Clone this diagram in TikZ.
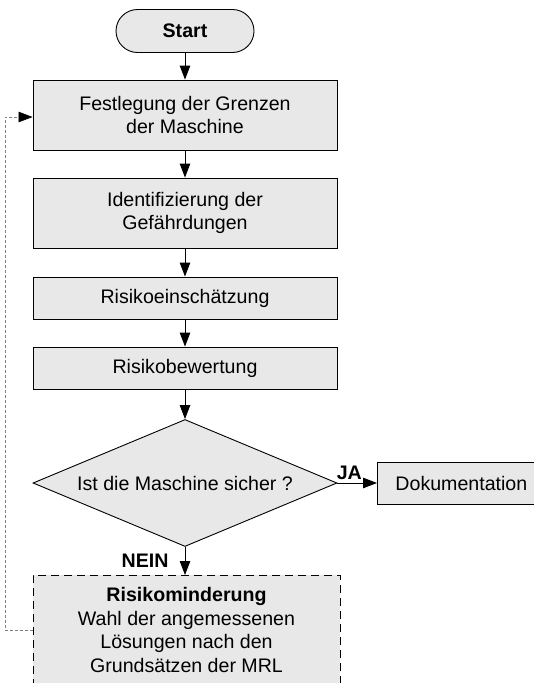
\documentclass[tikz,border=0pt]{standalone}
\usepackage{fontspec}
\setmainfont{Liberation Sans}
\usetikzlibrary{shapes.geometric,arrows.meta}
\definecolor{boxfill}{HTML}{E8E8E8}
\definecolor{loopgray}{HTML}{808080}
\tikzset{
  base/.style={draw=black, fill=boxfill, line width=0.9pt, inner sep=0pt, align=center,
    font=\fontsize{19.6}{22.5}\selectfont},
  procbox/.style={base, rectangle, minimum width=304pt},
  tip/.style={-{Triangle[length=14pt,width=10.5pt,color=black]}},
  arr/.style={tip, line width=0.9pt},
  lbl/.style={font=\fontsize{19.6}{23}\selectfont\bfseries, inner sep=0pt},
}
\begin{document}
\begin{tikzpicture}[x=1pt,y=-1pt]
\useasboundingbox (0,0) rectangle (534,683);
\clip (0,0) rectangle (534,683);
\node[base, rectangle, rounded corners=21.5pt, minimum width=138pt, minimum height=43pt] (start) at (185,31) {\bfseries Start};
\node[procbox, minimum height=70pt] (b1) at (185,115) {Festlegung der Grenzen\\der Maschine};
\node[procbox, minimum height=70pt] (b2) at (185,213) {Identifizierung der\\Gefährdungen};
\node[procbox, minimum height=42pt] (b3) at (185,298) {Risikoeinschätzung};
\node[procbox, minimum height=42pt] (b4) at (185,368) {Risikobewertung};
\node[base, diamond, aspect=2.39, minimum width=304pt, minimum height=127pt] (dia) at (185,483) {Ist die Maschine sicher ?};
\node[base, rectangle, anchor=west, minimum height=42pt, text width=161pt, align=left, inner xsep=18pt] (doku) at (377,483) {Dokumentation};
\node[base, rectangle, dashed, dash pattern=on 8pt off 5pt, anchor=north, minimum width=307pt, minimum height=140pt] (rm) at (186.5,575) {};
\node[font=\fontsize{19.6}{23.7}\selectfont, align=center, anchor=north, inner sep=0pt] (rmtext) at (rm.north) [yshift=-12pt] {\textbf{Risikominderung}\\Wahl der angemessenen\\Lösungen nach den\\Grundsätzen der MRL};
\draw[arr] (start) -- (b1);
\draw[arr] (b1) -- (b2);
\draw[arr] (b2) -- (b3);
\draw[arr] (b3) -- (b4);
\draw[arr] (b4) -- (dia);
\draw[arr] (dia.east) -- (doku.west) node[lbl, pos=0.3, above=3pt] {JA};
\draw[arr] (dia.south) -- (185,575) node[lbl, pos=0.5, left=16pt] {NEIN};
\coordinate (lp1) at (5,630);
\coordinate (lp2) at (5,117);
\draw[tip, draw=loopgray, line width=0.6pt, dash pattern=on 3pt off 2pt]
  (rm.west |- lp1) -- (lp1) -- (lp2) -- (b1.west |- lp2);
\end{tikzpicture}
\end{document}
